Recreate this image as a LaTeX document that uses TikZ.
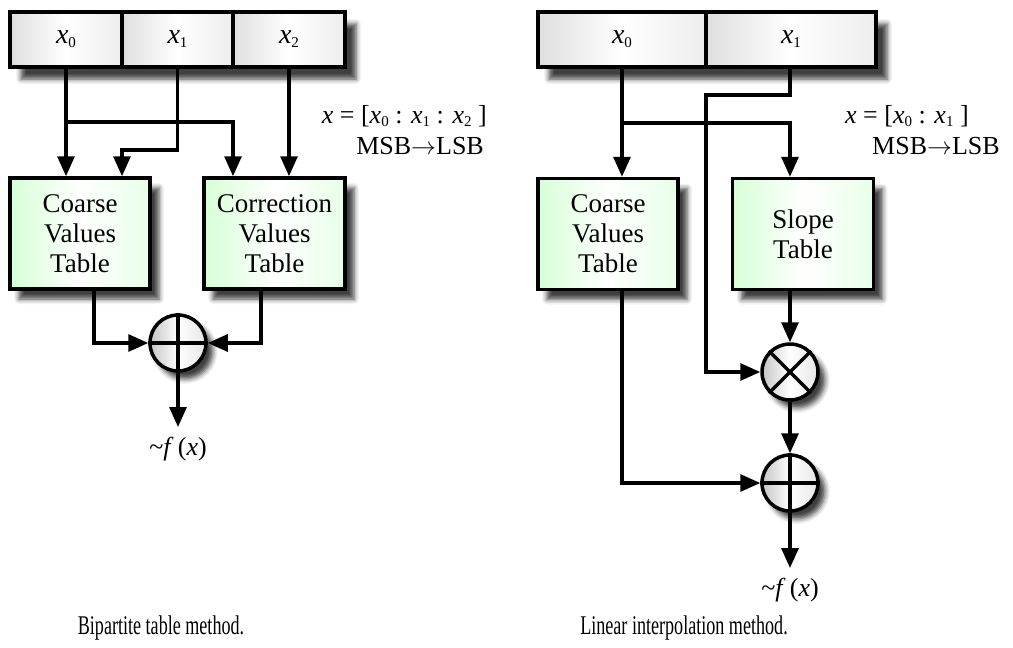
\documentclass[tikz,border=0pt]{standalone}
\usepackage{fontspec}
\setmainfont{Liberation Serif}
\usetikzlibrary{arrows.meta,shadows.blur,calc}
\newcommand\subx[1]{\raisebox{-0.3ex}{\fontsize{15}{15}\selectfont #1}}
\newcommand\vx{\textit{x}}
\begin{document}
\begin{tikzpicture}[x=1pt,y=-1pt,
  wire/.style={line width=3.2pt,line join=miter,draw=black},
  arr/.style={wire,-{Triangle[length=20pt,width=17pt,fill=black,color=black]}},
  shad/.style={blur shadow={shadow xshift=9pt,shadow yshift=-10pt,shadow blur radius=5pt,shadow opacity=75}},
  regcell/.style={draw,line width=3.5pt,inner sep=0pt,minimum height=55pt,
    left color=gray!25,right color=gray!14,middle color=white,
    font=\fontsize{28}{30}\selectfont},
  tbl/.style={shad,draw,line width=3.5pt,inner sep=0pt,minimum height=111pt,minimum width=140pt,
    left color=green!16,right color=green!9,middle color=white,align=center,
    font=\fontsize{27}{30}\selectfont},
  op/.style={blur shadow={shadow xshift=7pt,shadow yshift=-8pt,shadow blur radius=5pt,shadow opacity=75},
    circle,draw,line width=3.5pt,minimum size=56pt,inner sep=0pt,
    left color=gray!45,right color=gray!20,middle color=white},
  lbl/.style={inner sep=0pt,font=\fontsize{26}{30}\selectfont},
  captxt/.style={inner sep=0pt,font=\fontsize{27}{30}\selectfont}
]
\useasboundingbox (0,0) rectangle (1013,648);

% ---------------- Left: bipartite ----------------
\path[blur shadow={shadow xshift=11pt,shadow yshift=-12pt,shadow blur radius=5pt,shadow opacity=75}]
  (10,12) rectangle (345,67);
\node[regcell,minimum width=112pt] (r0) at (66,39.5) {\vx\subx{0}};
\node[regcell,minimum width=111pt] (r1) at (177.5,39.5) {\vx\subx{1}};
\node[regcell,minimum width=112pt] (r2) at (289,39.5) {\vx\subx{2}};

\node[tbl] (c1) at (80,233.5) {Coarse\\Values\\Table};
\node[tbl,minimum width=141pt] (c2) at (274.5,233.5) {Correction\\Values\\Table};

\node[op] (a1) at (178,343) {};
\draw[wire] (a1.north) -- (a1.south) (a1.west) -- (a1.east);

\coordinate (j1) at (233,122);
\coordinate (j2) at (122,150);
\coordinate (k1) at (94,343);
\coordinate (k2) at (261,343);
\coordinate (e1) at (178,427);

\draw[arr] (r0.south) -- (r0.south |- c1.north);
\draw[arr] (r0.south |- j1) -- (j1) -- (j1 |- c2.north);
\draw[arr] (r1.south) -- (r1.south |- j2) -- (j2) -- (j2 |- c1.north);
\draw[arr] (r2.south) -- (r2.south |- c2.north);
\draw[arr] (k1 |- c1.south) -- (k1) -- (a1.west);
\draw[arr] (k2 |- c2.south) -- (k2) -- (a1.east);
\draw[arr] (a1.south) -- (e1);

\node[lbl] (f1) at (178,449) {\textasciitilde\textit{f}\,(\vx)};
\node[lbl,anchor=east] (q1) at (487,116) {\vx{} = [\vx\subx{0} : \vx\subx{1} : \vx\subx{2} ]};
\node[lbl,anchor=east] (m1) at (484,146) {MSB$\rightarrow$LSB};
\node[captxt] (t1) at (161,628) {\scalebox{0.67}[1]{Bipartite table method.}};

% ---------------- Right: linear interpolation ----------------
\path[blur shadow={shadow xshift=11pt,shadow yshift=-12pt,shadow blur radius=5pt,shadow opacity=75}]
  (538,12) rectangle (876,67);
\node[regcell,minimum width=168pt] (s0) at (622,39.5) {\vx\subx{0}};
\node[regcell,minimum width=170pt] (s1) at (791,39.5) {\vx\subx{1}};

\node[tbl] (c3) at (608,234) {Coarse\\Values\\Table};
\node[tbl,minimum width=141pt] (sl) at (803,234) {Slope\\Table};

\node[op] (mu) at (790,372) {};
\draw[wire] (mu.north west) -- (mu.south east) (mu.north east) -- (mu.south west);
\node[op] (a2) at (790,483) {};
\draw[wire] (a2.north) -- (a2.south) (a2.west) -- (a2.east);

\coordinate (j3) at (790,123);
\coordinate (j4) at (706,95);
\coordinate (k3) at (622,483);
\coordinate (e2) at (790,568);

\draw[arr] (s0.south) -- (s0.south |- c3.north);
\draw[arr] (s0.south |- j3) -- (j3) -- (j3 |- sl.north);
\draw[arr] (j3 |- s1.south) -- (j3 |- j4) -- (j4) -- (j4 |- mu) -- (mu.west);
\draw[arr] (mu |- sl.south) -- (mu.north);
\draw[arr] (mu.south) -- (a2.north);
\draw[arr] (k3 |- c3.south) -- (k3) -- (a2.west);
\draw[arr] (a2.south) -- (e2);

\node[lbl] (f2) at (790,590) {\textasciitilde\textit{f}\,(\vx)};
\node[lbl,anchor=west] (q2) at (845,116) {\vx{} = [\vx\subx{0} : \vx\subx{1} ]};
\node[lbl,anchor=west] (m2) at (872,146) {MSB$\rightarrow$LSB};
\node[captxt] (t2) at (684,628) {\scalebox{0.67}[1]{Linear interpolation method.}};
\end{tikzpicture}
\end{document}
